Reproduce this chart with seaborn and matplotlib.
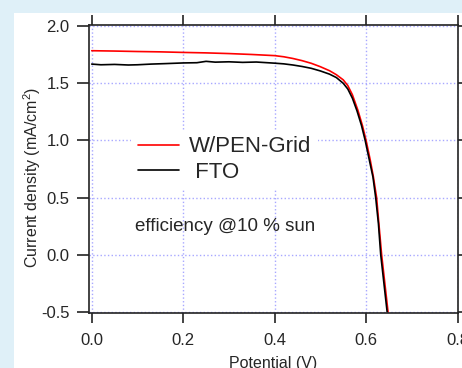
import matplotlib
matplotlib.use("Agg")
import matplotlib.pyplot as plt
import seaborn as sns
import pandas as pd
from matplotlib.patches import Rectangle

# J-V curves
grid_v = [0.0, 0.05, 0.1, 0.15, 0.2, 0.25, 0.3, 0.35, 0.4, 0.42, 0.44, 0.46,
          0.48, 0.5, 0.52, 0.535, 0.55, 0.56, 0.57, 0.582, 0.592, 0.6, 0.609,
          0.616, 0.623, 0.628, 0.634, 0.641, 0.648]
grid_j = [1.785, 1.782, 1.778, 1.775, 1.77, 1.766, 1.76, 1.752, 1.742, 1.732,
          1.717, 1.698, 1.675, 1.645, 1.61, 1.575, 1.53, 1.48, 1.40, 1.265,
          1.13, 1.0, 0.83, 0.68, 0.5, 0.27, 0.0, -0.25, -0.5]

fto_v = [0.0, 0.02, 0.05, 0.08, 0.1, 0.13, 0.16, 0.2, 0.23, 0.25, 0.27, 0.3,
         0.33, 0.36, 0.4, 0.42, 0.44, 0.46, 0.48, 0.5, 0.52, 0.535, 0.55, 0.56,
         0.57, 0.58, 0.59, 0.598, 0.607, 0.615, 0.621, 0.627, 0.632, 0.639, 0.646]
fto_j = [1.668, 1.662, 1.665, 1.66, 1.662, 1.668, 1.672, 1.678, 1.68, 1.692,
         1.685, 1.688, 1.683, 1.686, 1.676, 1.67, 1.66, 1.647, 1.631, 1.608,
         1.58, 1.55, 1.5, 1.45, 1.37, 1.26, 1.13, 1.0, 0.83, 0.68, 0.5, 0.27,
         0.0, -0.25, -0.5]

labels = ["W/PEN-Grid", " FTO"]
colors = ["#ff0000", "#000000"]

df = pd.concat([
    pd.DataFrame({"V": grid_v, "J": grid_j, "sample": labels[0]}),
    pd.DataFrame({"V": fto_v, "J": fto_j, "sample": labels[1]}),
])

sns.set_style("white")
plt.rcParams["font.family"] = ["Liberation Sans", "DejaVu Sans"]
plt.rcParams["mathtext.fontset"] = "custom"
plt.rcParams["mathtext.rm"] = "Liberation Sans"
plt.rcParams["axes.unicode_minus"] = False

bg = "#dff0f8"
fig = plt.figure(figsize=(4.62, 3.68), dpi=100, facecolor=bg)
# white panel behind the plot
fig.patches.append(Rectangle((14 / 462, 0), 1, 1 - 13 / 368,
                             transform=fig.transFigure, facecolor="white",
                             edgecolor="none", zorder=-10))
ax = fig.add_axes([89 / 462, 1 - 313 / 368, (458 - 89) / 462, (313 - 25) / 368])
ax.set_zorder(1)

sns.lineplot(data=df, x="V", y="J", hue="sample", palette=colors,
             estimator=None, sort=False, linewidth=1.2, ax=ax)

ax.set_xlim(-0.006, 0.801)
ax.set_ylim(-0.51, 2.01)
ax.set_xticks([0.0, 0.2, 0.4, 0.6, 0.8])
ax.set_yticks([-0.5, 0.0, 0.5, 1.0, 1.5, 2.0])
ax.set_xticklabels(["0.0", "0.2", "0.4", "0.6", "0.8"])
ax.set_yticklabels(["-0.5", "0.0", "0.5", "1.0", "1.5", "2.0"])

ax.grid(True, color="#a8a8ff", linestyle=":", linewidth=1.0)
ax.set_axisbelow(True)
for s in ax.spines.values():
    s.set_linewidth(1.2)
    s.set_color("#222222")
ax.tick_params(direction="out", left=True, bottom=True, top=True, right=True,
               length=8.6, width=1.2, color="#222222", labelsize=12, pad=5.5)
ax.tick_params(axis="x", length=7.5, pad=7)

ax.set_xlabel("Potential (V)", fontsize=11.5, labelpad=6)
ax.set_ylabel("Current density (mA/cm$^2$)", fontsize=11.5)
ax.yaxis.set_label_coords(-0.125, 0.47)

leg = ax.legend(loc="upper left", bbox_to_anchor=(0.085, 0.675), fontsize=16,
                frameon=True, facecolor="white", edgecolor="none",
                framealpha=1, handlelength=1.85, handletextpad=0.45,
                labelspacing=0.22, borderpad=0.3)
ax.text(0.094, 0.246, "efficiency @10 % sun", fontsize=13.5,
        va="center", ha="left")

fig.savefig("out.png", dpi=100, facecolor=bg)
